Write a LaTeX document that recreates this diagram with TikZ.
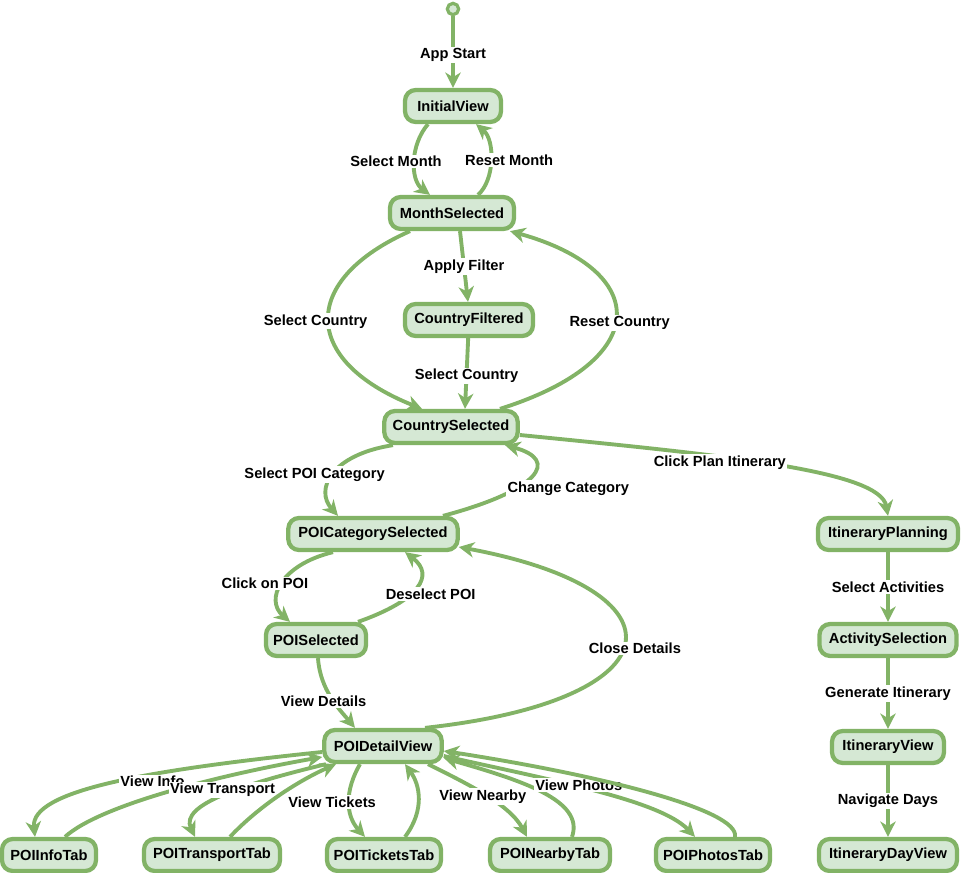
\documentclass[tikz,border=0pt]{standalone}
\usepackage{fontspec}
\setmainfont{Liberation Sans}
\usetikzlibrary{arrows.meta}

\definecolor{stategreen}{HTML}{82B366}
\definecolor{statefill}{HTML}{D5E8D4}

\tikzset{
    statebox/.style={draw=stategreen, fill=statefill, line width=3.2pt, rounded corners=8pt,
        minimum height=24pt, inner xsep=3pt, font=\fontsize{11}{13}\selectfont\bfseries},
    startdot/.style={circle, draw=stategreen, fill=statefill, line width=2.4pt,
        minimum size=8.5pt, inner sep=0pt},
    trans/.style={draw=stategreen, line width=2.9pt, -{Stealth[length=11.5pt,width=11.5pt,inset=3.5pt]}},
    lbl/.style={fill=white, inner sep=1pt, font=\fontsize{11}{13}\selectfont\bfseries},
}

\begin{document}
\begin{tikzpicture}[x=0.75pt, y=-0.75pt]
    \useasboundingbox (0,0) rectangle (961,873);

    % Start point
    \node[startdot] (start) at (453,9) {};

    % Main flow
    \node[statebox, minimum width=72pt] (InitialView) at (453,106) {InitialView};
    \node[statebox, minimum width=93pt] (MonthSelected) at (452,213) {MonthSelected};
    \node[statebox, minimum width=96pt] (CountryFiltered) at (469,320) {CountryFiltered};
    \node[statebox, minimum width=100pt] (CountrySelected) at (451,427) {CountrySelected};
    \node[statebox, minimum width=127pt] (POICategorySelected) at (373,534) {POICategorySelected};
    \node[statebox, minimum width=75pt] (POISelected) at (316,640) {POISelected};
    \node[statebox, minimum width=88pt] (POIDetailView) at (383,746) {POIDetailView};

    % Detail tabs
    \foreach \name/\x/\w in {POIInfoTab/49/94, POITransportTab/212/136, POITicketsTab/384/114,
                             POINearbyTab/550/120, POIPhotosTab/713/114} {
        \node[statebox, minimum width=\w*0.75pt] (\name) at (\x,855) {\name};
    }

    % Itinerary branch
    \foreach \name/\y/\w in {ItineraryPlanning/534/140, ActivitySelection/640/137,
                             ItineraryView/747/112, ItineraryDayView/855/138} {
        \node[statebox, minimum width=\w*0.75pt] (\name) at (888,\y) {\name};
    }

    % Top transitions
    \draw[trans] (start) -- node[lbl, yshift=-2pt] {App Start} (InitialView);
    \draw[trans] ([shift={(-25,0)}]InitialView.south) .. controls (410,145) and (410,180) ..
        ([shift={(-22,0)}]MonthSelected.north) node[lbl, pos=0.5, xshift=-14pt] {Select Month};
    \draw[trans] ([shift={(26,0)}]MonthSelected.north) .. controls (495,180) and (495,140) ..
        ([shift={(23,0)}]InitialView.south) node[lbl, pos=0.5, xshift=14pt] {Reset Month};
    \draw[trans] ([shift={(8,0)}]MonthSelected.south) -- node[lbl] {Apply Filter}
        ([shift={(-1,0)}]CountryFiltered.north);
    \draw[trans] ([shift={(-42,0)}]MonthSelected.south) .. controls (300,280) and (300,360) ..
        ([shift={(-29,0)}]CountrySelected.north) node[lbl, pos=0.5, xshift=-10pt, yshift=-1pt] {Select Country};
    \draw[trans] ([shift={(49,0)}]CountrySelected.north) .. controls (655,360) and (650,270) ..
        ([shift={(58,0)}]MonthSelected.south) node[lbl, pos=0.5, xshift=3pt, yshift=-5pt] {Reset Country};
    \draw[trans] (CountryFiltered) -- node[lbl, yshift=-2pt] {Select Country} ([shift={(14,0)}]CountrySelected.north);

    % Category and POI transitions
    \draw[trans] ([shift={(-58,0)}]CountrySelected.south) .. controls (330,455) and (315,490) ..
        ([shift={(-35,0)}]POICategorySelected.north) node[lbl, pos=0.5, xshift=-14pt] {Select POI Category};
    \draw[trans] ([shift={(70,0)}]POICategorySelected.north) .. controls (540,490) and (560,460) ..
        ([shift={(54,0)}]CountrySelected.south) node[lbl, pos=0.5, xshift=28pt, yshift=-9pt] {Change Category};
    \draw[trans] ([shift={(0,8)}]CountrySelected.east) .. controls (720,455) and (880,470) ..
        (ItineraryPlanning.north) node[lbl, pos=0.37, yshift=-4pt] {Click Plan Itinerary};
    \draw[trans] ([shift={(-40,0)}]POICategorySelected.south) .. controls (280,565) and (265,600) ..
        ([shift={(-26,0)}]POISelected.north) node[lbl, pos=0.5, xshift=-13pt] {Click on POI};
    \draw[trans] ([shift={(42,0)}]POISelected.north) .. controls (420,600) and (435,575) ..
        ([shift={(32,0)}]POICategorySelected.south) node[lbl, pos=0.5, xshift=11pt, yshift=-5pt] {Deselect POI};
    \draw[trans] ([shift={(2,0)}]POISelected.south) .. controls (320,690) and (340,710) ..
        ([shift={(-28,0)}]POIDetailView.north) node[lbl, pos=0.5, xshift=-6pt, yshift=-2pt] {View Details};
    \draw[trans] ([shift={(42,0)}]POIDetailView.north) .. controls (680,700) and (690,590) ..
        ([shift={(-1,13)}]POICategorySelected.east) node[lbl, pos=0.5, xshift=8pt, yshift=-4pt] {Close Details};

    % Tab transitions
    \draw[trans] ([shift={(0,6)}]POIDetailView.west) .. controls (150,770) and (30,790) ..
        ([shift={(-14,0)}]POIInfoTab.north) node[lbl, pos=0.38, yshift=-5pt] {View Info};
    \draw[trans] ([shift={(16,0)}]POIInfoTab.north) .. controls (100,805) and (220,775) ..
        ([shift={(0,11)}]POIDetailView.west);
    \draw[trans] ([shift={(-57,0)}]POIDetailView.south) .. controls (240,785) and (180,805) ..
        ([shift={(-17,0)}]POITransportTab.north) node[lbl, pos=0.5, yshift=5pt] {View Transport};
    \draw[trans] ([shift={(18,0)}]POITransportTab.north) .. controls (260,805) and (300,780) ..
        ([shift={(-47,0)}]POIDetailView.south);
    \draw[trans] ([shift={(-23,0)}]POIDetailView.south) .. controls (345,790) and (345,815) ..
        ([shift={(-19,0)}]POITicketsTab.north) node[lbl, pos=0.5, xshift=-13pt] {View Tickets};
    \draw[trans] ([shift={(21,0)}]POITicketsTab.north) .. controls (425,810) and (420,785) ..
        ([shift={(22,0)}]POIDetailView.south);
    \draw[trans] ([shift={(45,0)}]POIDetailView.south) .. controls (470,785) and (510,805) ..
        ([shift={(-23,0)}]POINearbyTab.north) node[lbl, pos=0.5, xshift=-3pt] {View Nearby};
    \draw[trans] ([shift={(22,0)}]POINearbyTab.north) .. controls (585,800) and (520,780) ..
        ([shift={(0,12)}]POIDetailView.east);
    \draw[trans] ([shift={(0,10)}]POIDetailView.east) .. controls (550,780) and (660,800) ..
        ([shift={(-18,0)}]POIPhotosTab.north) node[lbl, pos=0.5, xshift=-13pt, yshift=5pt] {View Photos};
    \draw[trans] ([shift={(22,0)}]POIPhotosTab.north) .. controls (740,810) and (600,775) ..
        ([shift={(0,5)}]POIDetailView.east);

    % Itinerary transitions
    \foreach \a/\b/\txt in {ItineraryPlanning/ActivitySelection/Select Activities,
                            ActivitySelection/ItineraryView/Generate Itinerary,
                            ItineraryView/ItineraryDayView/Navigate Days} {
        \draw[trans] (\a) -- node[lbl] {\txt} (\b);
    }
\end{tikzpicture}
\end{document}
